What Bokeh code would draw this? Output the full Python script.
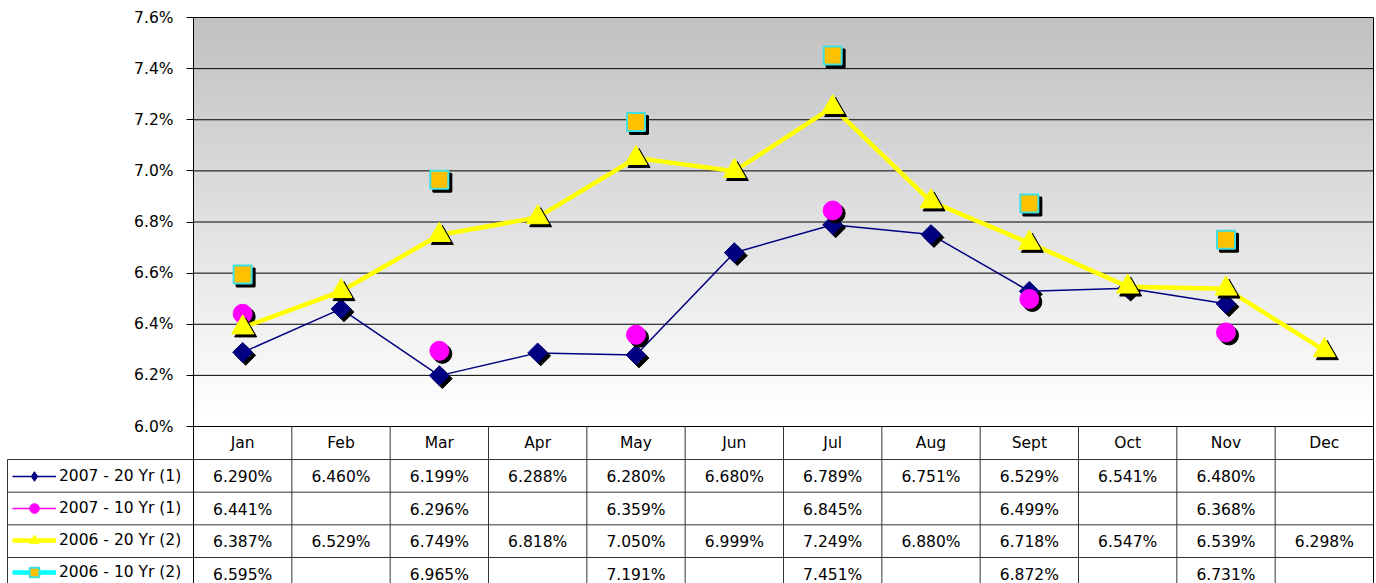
import numpy as np
from bokeh.plotting import figure
from bokeh.models import (Range1d, FixedTicker, CustomJSTickFormatter, BoxAnnotation,
                          ColumnDataSource, Legend, LegendItem)
from bokeh.embed import file_html
from bokeh.resources import INLINE
from bokeh.core.properties import value

# ---------------- data ----------------
MONTHS = ["Jan", "Feb", "Mar", "Apr", "May", "Jun", "Jul", "Aug", "Sept", "Oct", "Nov", "Dec"]
S2007_20 = [6.290, 6.460, 6.199, 6.288, 6.280, 6.680, 6.789, 6.751, 6.529, 6.541, 6.480, None]
S2007_10 = [6.441, None, 6.296, None, 6.359, None, 6.845, None, 6.499, None, 6.368, None]
S2006_20 = [6.387, 6.529, 6.749, 6.818, 7.050, 6.999, 7.249, 6.880, 6.718, 6.547, 6.539, 6.298]
S2006_10 = [6.595, None, 6.965, None, 7.191, None, 7.451, None, 6.872, None, 6.731, None]
SERIES_NAMES = ["2007 - 20 Yr (1)", "2007 - 10 Yr (1)", "2006 - 20 Yr (2)", "2006 - 10 Yr (2)"]
Y_TICKS = [6.0, 6.2, 6.4, 6.6, 6.8, 7.0, 7.2, 7.4, 7.6]

# ---------------- layout constants (px) ----------------
W, H = 1376, 583
CH_L, CH_R = 193, 1373          # chart area left / right
CH_T, CH_B = 17, 426            # 7.6% / 6.0%
PXW = (CH_R - CH_L) / 12.0
PXY = (CH_B - CH_T) / (7.6 - 6.0)
HEAD_H = 33
ROW_H = 32.67
LEG_X = 7
FONT = "DejaVu Sans"
FS = "15.5px"
SH = 3
LINE_C = "#333333"

def arr(v):
    return np.array([np.nan if x is None else x for x in v], dtype=float)

X = np.arange(12) + 0.5
Y0 = 6.0 - (H - CH_B) / PXY
Y1 = 7.6 + CH_T / PXY

p = figure(width=W, height=H, x_range=Range1d(-CH_L / PXW, (W - CH_L) / PXW), y_range=Range1d(Y0, Y1),
           output_backend="svg", toolbar_location=None, title=None, x_axis_location=None,
           min_border_left=0, min_border_right=0, min_border_top=0, min_border_bottom=0)
p.extra_y_ranges = {"px": Range1d(start=H, end=0)}
p.background_fill_color = "white"
p.border_fill_color = "white"
p.outline_line_color = None
p.xgrid.visible = False
p.ygrid.visible = False

# gradient background of the chart area
n = 64
edges = np.linspace(6.0, 7.6, n + 1)
for lo, hi in zip(edges[:-1], edges[1:]):
    mid = (lo + hi) / 2
    t = max(0.0, (mid - 6.05) / 1.55)
    g = int(round(255 - 63 * t))
    p.add_layout(BoxAnnotation(left=0, right=12, bottom=lo, top=min(hi + 0.003, 7.6),
                               fill_color=f"#{g:02x}{g:02x}{g:02x}", fill_alpha=1,
                               line_color=None, level="image"))

# horizontal gridlines and right border of the chart area
p.segment(x0=[0] * len(Y_TICKS), x1=[12] * len(Y_TICKS), y0=Y_TICKS, y1=Y_TICKS,
          line_color="black", line_width=1)
p.segment(x0=[12], x1=[12], y0=[Y0], y1=[7.6], line_color="black", line_width=1)

yax = p.yaxis[0]
yax.fixed_location = 0
yax.bounds = (Y0, 7.6)
yax.ticker = FixedTicker(ticks=Y_TICKS)
yax.formatter = CustomJSTickFormatter(code="return tick.toFixed(1) + '%';")
yax.axis_line_color = "black"
yax.major_tick_line_color = "black"
yax.major_tick_out = 7
yax.major_tick_in = 0
yax.minor_tick_line_color = None
yax.major_label_standoff = 13
yax.major_label_text_font = FONT
yax.major_label_text_font_size = FS
yax.major_label_text_color = "black"

dx = SH / PXW
dy = SH / PXY

NAVY, MAG, YEL, CYAN, ORANGE = "#000080", "#ff00ff", "#ffff00", "#00ffff", "#ffc000"

def series(vals, lc, lw, marker, size, fill, mline, mlw, angle=0.0):
    v = arr(vals)
    lr = p.line(X, v, line_color=lc, line_width=lw)
    p.scatter(X + dx, v - dy, marker=marker, size=size, angle=angle,
              fill_color="black", line_color="black", line_width=mlw)
    mr = p.scatter(X, v, marker=marker, size=size, angle=angle,
                   fill_color=fill, line_color=mline, line_width=mlw)
    return [lr, mr]

r1 = series(S2007_20, NAVY, 1.5, "square", 14, NAVY, NAVY, 1, angle=np.pi / 4)
r2 = series(S2007_10, MAG, 1.5, "circle", 19, MAG, MAG, 1)
r3 = series(S2006_20, YEL, 4.5, "triangle", 22, YEL, YEL, 1)
r4 = series(S2006_10, CYAN, 4.5, "square", 18, ORANGE, "#40e0e0", 2)

# key glyph for the diamond series (the legend ignores marker angle); NaN point -> nothing in chart
key_diamond = p.scatter(x=[np.nan], y=[np.nan], marker="diamond", size=12,
                        fill_color=NAVY, line_color=NAVY)

# ---------------- data table (y in page pixels) ----------------
row_tops = [CH_B + HEAD_H + k * ROW_H for k in range(4)]
LEG_L = (LEG_X - CH_L) / PXW
p.segment(x0=[LEG_L] * 4, x1=[12] * 4, y0=row_tops, y1=row_tops, y_range_name="px",
          line_color=LINE_C, line_width=1)
vx = list(range(1, 12))
p.segment(x0=vx, x1=vx, y0=[CH_B] * len(vx), y1=[H] * len(vx), y_range_name="px",
          line_color=LINE_C, line_width=1)
p.segment(x0=[LEG_L], x1=[LEG_L], y0=[row_tops[0]], y1=[H], y_range_name="px",
          line_color=LINE_C, line_width=1)

p.text(x=list(X), y=[CH_B + HEAD_H / 2] * 12, text=MONTHS, y_range_name="px",
       text_font=value(FONT), text_font_size=value(FS), text_align="center",
       text_baseline="middle", text_color="black")

all_series = [S2007_20, S2007_10, S2006_20, S2006_10]
tx, ty, tt = [], [], []
for r, vals in enumerate(all_series):
    for i, v in enumerate(vals):
        if v is not None:
            tx.append(i + 0.5)
            ty.append(row_tops[r] + ROW_H / 2 + 1)
            tt.append(f"{v:.3f}%")
p.text(x="x", y="y", text="t", source=ColumnDataSource(dict(x=tx, y=ty, t=tt)), y_range_name="px",
       text_font=value(FONT), text_font_size=value(FS), text_align="center",
       text_baseline="middle", text_color="black")

# legend keys of the table rows
GH = 24
SP = 8
key_renderers = [[r1[0], key_diamond], r2, r3, r4]
legend = Legend(items=[LegendItem(label=value(nm), renderers=rr)
                       for nm, rr in zip(SERIES_NAMES, key_renderers)])
legend.glyph_width = 44
legend.glyph_height = GH
legend.label_height = GH
legend.label_standoff = 3
legend.spacing = SP
legend.padding = 10
first_center = row_tops[0] + ROW_H / 2 + 1
leg_h = 2 * 10 + 4 * GH + 3 * SP
leg_top = first_center - GH / 2 - 10
legend.location = (12, H - (leg_top + leg_h) + 10)
legend.border_line_color = None
legend.background_fill_alpha = 0
legend.label_text_font = FONT
legend.label_text_font_size = FS
legend.label_text_color = "black"
p.add_layout(legend)

open("out.html", "w").write(file_html(p, INLINE))
